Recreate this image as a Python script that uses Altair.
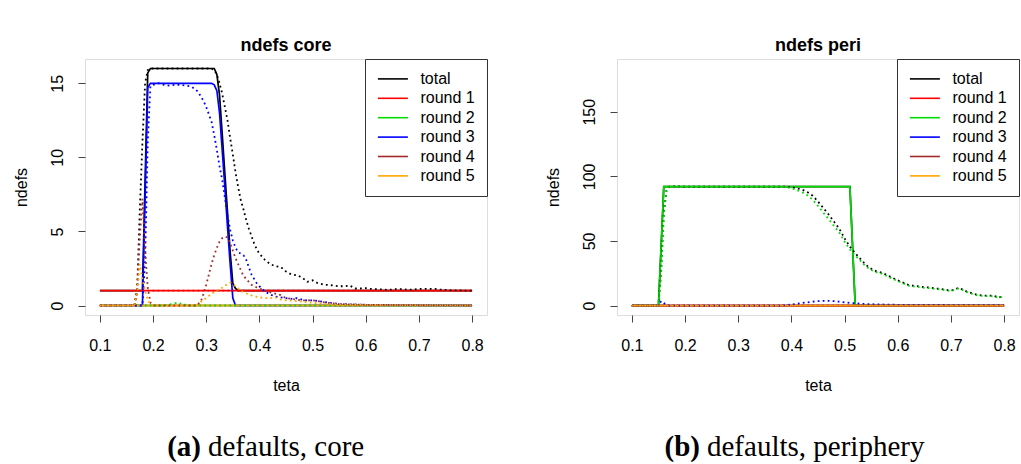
import altair as alt
import pandas as pd

SERIES = ["total", "round 1", "round 2", "round 3", "round 4", "round 5"]
COLORS = ["#000000", "#FF0000", "#00DD00", "#0000FF", "#A52A2A", "#FFA500"]

TETA_TICKS = [0.1, 0.2, 0.3, 0.4, 0.5, 0.6, 0.7, 0.8]
CORE_Y_TICKS = [0, 5, 10, 15]
PERI_Y_TICKS = [0, 50, 100, 150]

# ---------------- core panel ----------------
core_total_solid_x = [0.1, 0.18, 0.19, 0.195, 0.315, 0.32, 0.325, 0.33, 0.335, 0.34, 0.345, 0.35, 0.355, 0.36, 0.8]
core_total_solid_y = [1, 1, 15.7, 16, 16, 15.6, 14.2, 11.6, 8.9, 6.3, 3.6, 1.5, 1.15, 1, 1]
core_r1_solid_x = [0.1, 0.8]
core_r1_solid_y = [1, 1]
core_r2_solid_x = [0.1, 0.8]
core_r2_solid_y = [0, 0]
core_r3_solid_x = [0.1, 0.18, 0.19, 0.195, 0.31, 0.315, 0.32, 0.325, 0.33, 0.335, 0.34, 0.345, 0.35, 0.355, 0.8]
core_r3_solid_y = [0, 0, 14.7, 15, 15, 14.9, 14.5, 13, 10.5, 8, 5.3, 2.8, 0.5, 0, 0]
core_r4_solid_x = [0.1, 0.8]
core_r4_solid_y = [0, 0]
core_r5_solid_x = [0.1, 0.8]
core_r5_solid_y = [0, 0]

core_total_dot_x = [0.1, 0.165, 0.17, 0.175, 0.18, 0.185, 0.19, 0.195, 0.31, 0.315, 0.32, 0.325, 0.33, 0.335,
                    0.34, 0.345, 0.35, 0.355, 0.36, 0.365, 0.37, 0.375, 0.38, 0.385, 0.39, 0.395, 0.4, 0.41,
                    0.42, 0.43, 0.44, 0.45, 0.46, 0.47, 0.48, 0.49, 0.5, 0.51, 0.52, 0.53, 0.54, 0.55, 0.56,
                    0.57, 0.58, 0.59, 0.6, 0.61, 0.62, 0.63, 0.64, 0.65, 0.66, 0.67, 0.68, 0.69, 0.7, 0.71,
                    0.72, 0.73, 0.74, 0.75, 0.76, 0.77, 0.78, 0.79, 0.8]
core_total_dot_y = [0, 0, 1, 6.4, 11, 15, 15.9, 16, 16, 15.9, 15.6, 15, 14.3, 13.4,
                    12.5, 11.3, 10.2, 9, 8, 7.1, 6.5, 5.8, 5.2, 4.7, 4.2, 3.8, 3.5, 3.1,
                    2.8, 2.65, 2.6, 2.3, 2.1, 2.05, 1.9, 1.6, 1.7, 1.5, 1.42, 1.38, 1.35, 1.3, 1.3,
                    1.35, 1.15, 1.15, 1.17, 1.12, 1.1, 1.08, 1.06, 1.08, 1.12, 1.1, 1.06, 1.07, 1.12, 1.13,
                    1.12, 1.12, 1.07, 1.06, 1.03, 1.02, 1.02, 1.0, 1.0]
core_r1_dot_x = [0.1, 0.165, 0.17, 0.8]
core_r1_dot_y = [0, 0, 1, 1]
core_r2_dot_x = [0.1, 0.22, 0.235, 0.245, 0.255, 0.265, 0.8]
core_r2_dot_y = [0, 0, 0.1, 0.18, 0.12, 0, 0]
core_r3_dot_x = [0.1, 0.18, 0.185, 0.19, 0.195, 0.2, 0.21, 0.22, 0.23, 0.24, 0.25, 0.26, 0.27, 0.28, 0.285,
                 0.29, 0.295, 0.3, 0.305, 0.31, 0.315, 0.32, 0.325, 0.33, 0.335, 0.34, 0.345, 0.35, 0.355,
                 0.36, 0.365, 0.37, 0.375, 0.38, 0.385, 0.39, 0.395, 0.4, 0.41, 0.42, 0.43, 0.44, 0.45,
                 0.46, 0.47, 0.48, 0.49, 0.5, 0.51, 0.52, 0.53, 0.54, 0.55, 0.57, 0.6, 0.65, 0.7, 0.8]
core_r3_dot_y = [0, 0, 3, 11, 14.8, 14.9, 15, 14.9, 14.85, 14.9, 14.9, 14.85, 14.8, 14.6, 14.4,
                 14.1, 13.8, 13.4, 12.9, 12.4, 11.5, 10.5, 9.4, 8.5, 7.3, 6.1, 5.1, 4.4, 3.9,
                 3.6, 3.5, 3.4, 3.1, 2.6, 2.1, 1.8, 1.5, 1.3, 0.95, 0.75, 0.6, 0.55, 0.5,
                 0.45, 0.5, 0.4, 0.35, 0.35, 0.3, 0.25, 0.2, 0.15, 0.1, 0.08, 0.05, 0.03, 0.02, 0]
core_r4_dot_x = [0.1, 0.165, 0.17, 0.175, 0.18, 0.185, 0.19, 0.195, 0.2, 0.28, 0.285, 0.29, 0.295, 0.3,
                 0.305, 0.31, 0.315, 0.32, 0.325, 0.33, 0.335, 0.34, 0.345, 0.35, 0.355, 0.36, 0.365,
                 0.37, 0.375, 0.38, 0.385, 0.39, 0.4, 0.41, 0.42, 0.43, 0.44, 0.45, 0.46, 0.47, 0.48,
                 0.49, 0.5, 0.51, 0.52, 0.53, 0.55, 0.6, 0.65, 0.8]
core_r4_dot_y = [0, 0, 1.0, 4.5, 7.2, 3.8, 1.2, 0.2, 0, 0, 0.1, 0.3, 0.8, 1.4,
                 2.1, 2.8, 3.4, 3.9, 4.3, 4.55, 4.65, 4.6, 4.2, 3.7, 3.2, 2.8, 2.4,
                 2.0, 1.8, 1.6, 1.4, 1.3, 1.15, 1.0, 0.9, 0.8, 0.7, 0.5, 0.45, 0.4, 0.35,
                 0.35, 0.35, 0.3, 0.22, 0.18, 0.1, 0.05, 0.03, 0]
core_r5_dot_x = [0.1, 0.165, 0.17, 0.175, 0.18, 0.185, 0.19, 0.195, 0.2, 0.28, 0.285, 0.29, 0.3, 0.31,
                 0.32, 0.33, 0.34, 0.345, 0.35, 0.355, 0.36, 0.365, 0.37, 0.38, 0.39, 0.4, 0.41, 0.42,
                 0.43, 0.44, 0.45, 0.47, 0.49, 0.51, 0.53, 0.56, 0.6, 0.8]
core_r5_dot_y = [0, 0, 0.8, 2.8, 1.8, 1.0, 0.4, 0.05, 0, 0, 0.1, 0.25, 0.5, 0.8,
                 1.0, 1.2, 1.45, 1.55, 1.45, 1.3, 1.15, 1.0, 0.9, 0.75, 0.62, 0.55, 0.5, 0.5,
                 0.55, 0.4, 0.35, 0.3, 0.22, 0.15, 0.1, 0.06, 0.04, 0]

# ---------------- periphery panel ----------------
peri_total_solid_x = [0.1, 0.15, 0.16, 0.51, 0.52, 0.8]
peri_total_solid_y = [0, 0, 92, 92, 0, 0]
peri_r1_solid_x = [0.1, 0.8]
peri_r1_solid_y = [0, 0]
peri_r2_solid_x = [0.1, 0.15, 0.16, 0.51, 0.52, 0.8]
peri_r2_solid_y = [0, 0, 92, 92, 0, 0]
peri_r3_solid_x = [0.1, 0.8]
peri_r3_solid_y = [0, 0]
peri_r4_solid_x = [0.1, 0.8]
peri_r4_solid_y = [0, 0]
peri_r5_solid_x = [0.1, 0.8]
peri_r5_solid_y = [0, 0]

peri_dot_x = [0.1, 0.145, 0.15, 0.155, 0.16, 0.165, 0.17, 0.175, 0.2, 0.25, 0.3, 0.35, 0.38, 0.39, 0.4,
              0.41, 0.42, 0.43, 0.44, 0.45, 0.46, 0.47, 0.48, 0.49, 0.5, 0.51, 0.52, 0.53, 0.54, 0.55,
              0.56, 0.57, 0.58, 0.59, 0.6, 0.61, 0.62, 0.63, 0.64, 0.65, 0.66, 0.67, 0.68, 0.69, 0.7,
              0.71, 0.715, 0.72, 0.73, 0.74, 0.75, 0.76, 0.77, 0.78, 0.79, 0.8]
peri_total_dot_y = [0, 0, 0.5, 28, 72, 89, 92, 92.3, 92, 92, 92, 92, 92, 92, 91.5,
                    90.8, 89.7, 87.8, 85, 80.5, 75.5, 70.5, 65, 59.5, 52, 45.5, 40.5, 36, 31.5, 28.5,
                    26.5, 25.5, 23.5, 21.5, 19.5, 17.8, 16, 15.3, 14.8, 14.2, 14, 13.2, 12.9, 12.2, 11.5,
                    13, 13.7, 12.8, 10.8, 9.5, 8.2, 7.8, 7.7, 7.6, 6.2, 7.7]
peri_r2_dot_y = [0, 0, 0.3, 24, 70, 88.5, 92, 92.3, 92, 92, 92, 92, 92, 91.6, 90.7,
                 89.4, 87.7, 85.3, 82, 77.1, 71.9, 66.9, 61.6, 56.5, 49.5, 43.4, 38.7, 34.5, 30.3, 27.5,
                 25.6, 24.7, 22.7, 20.8, 18.9, 17.3, 15.5, 14.8, 14.3, 13.7, 13.5, 12.8, 12.5, 11.8, 11.1,
                 12.6, 13.3, 12.4, 10.4, 9.1, 7.8, 7.4, 7.3, 7.2, 5.9, 7.4]
peri_r3_dot_x = [0.1, 0.15, 0.155, 0.16, 0.165, 0.17, 0.38, 0.39, 0.4, 0.41, 0.42, 0.43, 0.44, 0.45,
                 0.46, 0.47, 0.48, 0.49, 0.5, 0.51, 0.52, 0.53, 0.54, 0.56, 0.6, 0.7, 0.8]
peri_r3_dot_y = [0, 0, 3.5, 2.0, 0.5, 0, 0, 0.3, 0.8, 1.4, 2.0, 2.5, 3.0, 3.4,
                 3.6, 3.6, 3.4, 3.0, 2.5, 2.1, 1.8, 1.5, 1.2, 0.9, 0.6, 0.4, 0.3]
peri_zero_dot_x = [0.1, 0.8]
peri_zero_dot_y = [0, 0]

rows = []


def add(panel, series, kind, xs, ys):
    for i, (x, y) in enumerate(zip(xs, ys)):
        rows.append({"panel": panel, "series": series, "kind": kind, "teta": x, "ndefs": y,
                     "sidx": SERIES.index(series), "i": i})


core_solid = [(core_total_solid_x, core_total_solid_y), (core_r1_solid_x, core_r1_solid_y),
              (core_r2_solid_x, core_r2_solid_y), (core_r3_solid_x, core_r3_solid_y),
              (core_r4_solid_x, core_r4_solid_y), (core_r5_solid_x, core_r5_solid_y)]
core_dot = [(core_total_dot_x, core_total_dot_y), (core_r1_dot_x, core_r1_dot_y),
            (core_r2_dot_x, core_r2_dot_y), (core_r3_dot_x, core_r3_dot_y),
            (core_r4_dot_x, core_r4_dot_y), (core_r5_dot_x, core_r5_dot_y)]
peri_solid = [(peri_total_solid_x, peri_total_solid_y), (peri_r1_solid_x, peri_r1_solid_y),
              (peri_r2_solid_x, peri_r2_solid_y), (peri_r3_solid_x, peri_r3_solid_y),
              (peri_r4_solid_x, peri_r4_solid_y), (peri_r5_solid_x, peri_r5_solid_y)]
peri_dot = [(peri_dot_x, peri_total_dot_y), (peri_zero_dot_x, peri_zero_dot_y),
            (peri_dot_x, peri_r2_dot_y), (peri_r3_dot_x, peri_r3_dot_y),
            (peri_zero_dot_x, peri_zero_dot_y), (peri_zero_dot_x, peri_zero_dot_y)]

for s, (xs, ys) in zip(SERIES, core_solid):
    add("core", s, "solid", xs, ys)
for s, (xs, ys) in zip(SERIES, core_dot):
    add("core", s, "dot", xs, ys)
for s, (xs, ys) in zip(SERIES, peri_solid):
    add("peri", s, "solid", xs, ys)
for s, (xs, ys) in zip(SERIES, peri_dot):
    add("peri", s, "dot", xs, ys)

df = pd.DataFrame(rows)

FONT = "Liberation Sans"
SERIF = "Liberation Serif"
W, H = 402, 256


def panel(name, title, ydomain, yticks, cap_bold, cap_rest, cap_x):
    d = df[df.panel == name]
    legend = alt.Legend(title=None, orient="top-right", offset=0, strokeColor="#333",
                        fillColor="white", padding=11.4, symbolType="M-2,0H2", symbolSize=225,
                        symbolStrokeWidth=1.6, symbolOffset=8, labelFontSize=16, labelFont=FONT,
                        labelColor="black", rowPadding=2.4, labelOffset=19, cornerRadius=0)
    x = alt.X("teta:Q", scale=alt.Scale(domain=[0.072, 0.828], nice=False, zero=False),
              axis=alt.Axis(values=TETA_TICKS, format=".1f", title="teta", titleFont=FONT,
                            titleFontSize=16, titleFontWeight="normal", titleColor="black",
                            labelFont=FONT, labelFontSize=16, labelColor="black", tickSize=7,
                            tickColor="#444", domain=False, grid=False, labelPadding=15,
                            titlePadding=24, labelFlush=False))
    y = alt.Y("ndefs:Q", scale=alt.Scale(domain=ydomain, nice=False, zero=False),
              axis=alt.Axis(values=yticks, title="ndefs", titleFont=FONT, titleFontSize=16,
                            titleFontWeight="normal", titleColor="black", labelFont=FONT,
                            labelFontSize=16, labelColor="black", labelAngle=270,
                            labelAlign="center", labelBaseline="alphabetic", tickSize=7,
                            tickColor="#444", domain=False, grid=False, labelPadding=16,
                            titlePadding=20))
    color = alt.Color("series:N", scale=alt.Scale(domain=SERIES, range=COLORS), legend=legend)
    base = alt.Chart(d)
    solid = base.transform_filter(alt.datum.kind == "solid").mark_line(
        strokeWidth=1.7, clip=True).encode(x=x, y=y, color=color, order="i:Q")
    dot = base.transform_filter(alt.datum.kind == "dot").mark_line(
        strokeWidth=1.8, strokeDash=[1.8, 3.2], clip=True).encode(x=x, y=y, color=color, order="i:Q")
    ttl = alt.Chart(pd.DataFrame({"t": [title]})).mark_text(
        font=FONT, fontSize=18, fontWeight="bold", align="center", baseline="middle",
        color="black").encode(x=alt.value(W / 2), y=alt.value(-13), text="t:N")
    cap1 = alt.Chart(pd.DataFrame({"t": [cap_bold]})).mark_text(
        font=SERIF, fontSize=29, fontWeight="bold", align="right", baseline="middle",
        color="black").encode(x=alt.value(cap_x), y=alt.value(388), text="t:N")
    cap2 = alt.Chart(pd.DataFrame({"t": [cap_rest]})).mark_text(
        font=SERIF, fontSize=29, align="left", baseline="middle",
        color="black").encode(x=alt.value(cap_x + 7), y=alt.value(388), text="t:N")
    return alt.layer(solid, dot, ttl, cap1, cap2).properties(width=W, height=H)


left = panel("core", "ndefs core", [-0.64, 16.64], CORE_Y_TICKS, "(a)", "defaults, core", 116)
right = panel("peri", "ndefs peri", [-7.3, 190.8], PERI_Y_TICKS, "(b)", "defaults, periphery", 83)

chart = alt.hconcat(left, right, spacing=130, bounds="flush").resolve_scale(
    color="independent", x="independent", y="independent"
).properties(padding={"left": 12, "top": 36, "right": 0, "bottom": 0}).configure_view(
    stroke="#333", strokeWidth=1
).configure(background="white")

chart.save("out.html", embed_options={"renderer": "svg", "actions": False})
